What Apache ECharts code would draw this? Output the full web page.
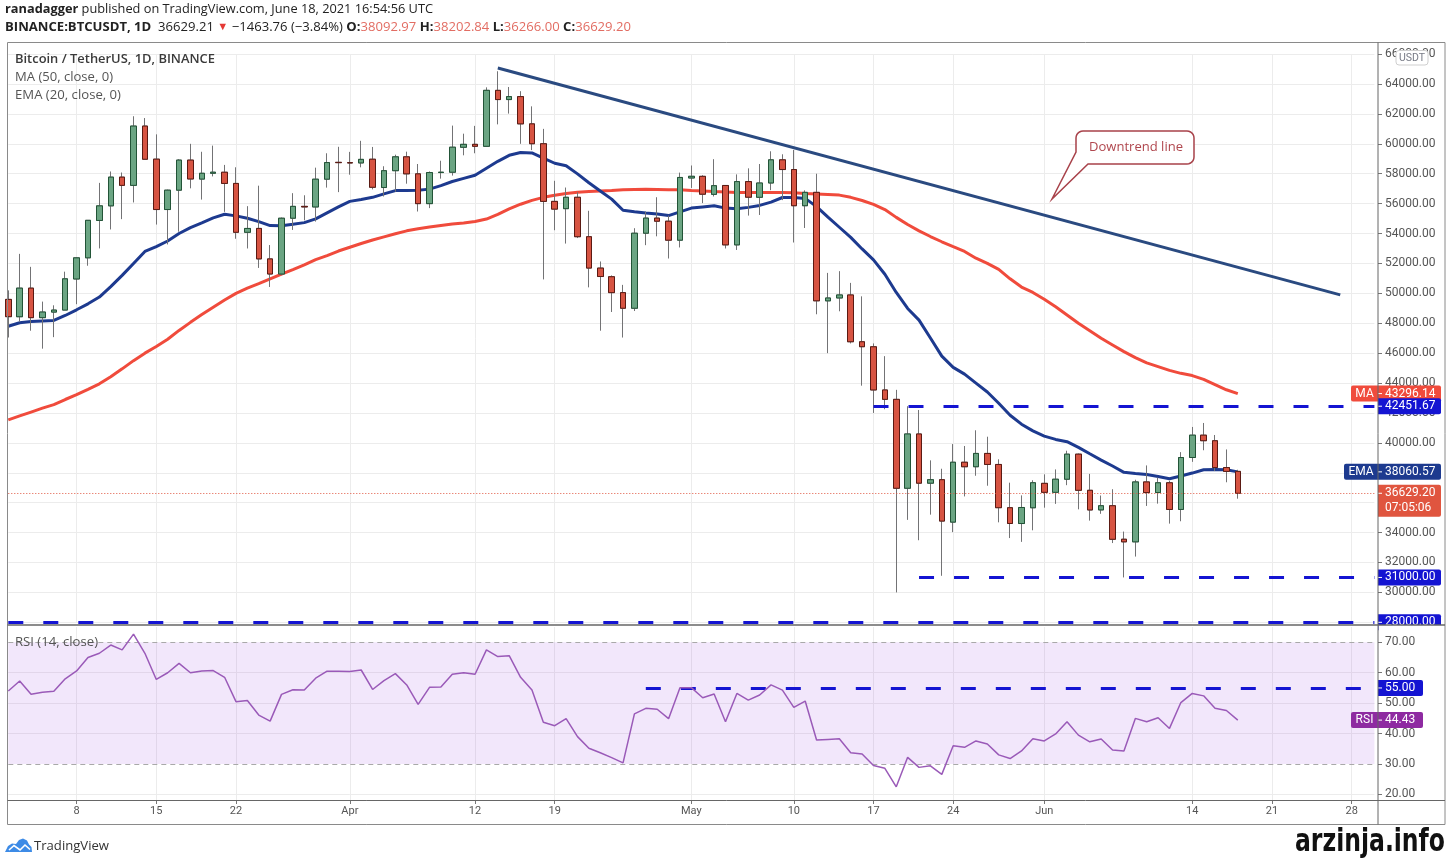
<!DOCTYPE html>
<html><head><meta charset="utf-8">
<script src="https://cdn.jsdelivr.net/npm/echarts@6/dist/echarts.min.js"></script>
<style>html,body{margin:0;padding:0;background:#fff}#c{width:1449px;height:859px}</style>
</head><body><div id="c"></div>
<script>
// ---------- DATA ----------
const dates = [
'03-02','03-03','03-04','03-05','03-06','03-07','03-08','03-09','03-10','03-11','03-12','03-13','03-14','03-15','03-16','03-17','03-18','03-19','03-20','03-21','03-22','03-23','03-24','03-25','03-26','03-27','03-28','03-29','03-30','03-31',
'04-01','04-02','04-03','04-04','04-05','04-06','04-07','04-08','04-09','04-10','04-11','04-12','04-13','04-14','04-15','04-16','04-17','04-18','04-19','04-20','04-21','04-22','04-23','04-24','04-25','04-26','04-27','04-28','04-29','04-30',
'05-01','05-02','05-03','05-04','05-05','05-06','05-07','05-08','05-09','05-10','05-11','05-12','05-13','05-14','05-15','05-16','05-17','05-18','05-19','05-20','05-21','05-22','05-23','05-24','05-25','05-26','05-27','05-28','05-29','05-30','05-31',
'06-01','06-02','06-03','06-04','06-05','06-06','06-07','06-08','06-09','06-10','06-11','06-12','06-13','06-14','06-15','06-16','06-17','06-18','06-19','06-20','06-21','06-22','06-23','06-24','06-25','06-26','06-27','06-28','06-29','06-30'];

const opens = [49595,48436,50349,48374,48746,48882,50960,52376,54874,55851,57773,57221,61188,58976,55605,56900,58912,57641,58030,58100,57351,54083,54342,52303,51293,55025,55817,55777,57635,58761,
58740,58721,58970,57077,58202,59130,57991,56000,58078,58101,59769,59965,59834,63576,62959,63158,61334,60006,56150,55663,56425,53787,51690,51111,50047,49004,54021,55033,54825,53555,
57714,57825,56620,57214,53241,57473,56425,57380,58929,58280,55860,56754,49498,49691,49893,46762,46427,43538,42910,36966,40596,37304,37537,34700,38705,38403,39294,38556,35664,34606,35659,
37293,36694,37568,39246,36829,35516,35796,33556,33380,37389,36677,37331,35546,39021,40516,40143,38349,38093];
const highs = [50200,52640,51773,49448,49200,51450,52402,54900,57387,58150,58081,61844,61724,60633,56938,58974,60000,59468,59880,58589,58430,55830,57200,53230,55073,56700,56559,58405,59368,59800,
59462,60200,59791,58500,59272,59475,58650,58153,58869,61218,60678,61200,63777,64854,63800,63520,62506,61000,57526,57076,56757,55521,52131,51200,50567,54356,55460,56428,55200,58075,
58550,57900,58973,57214,57956,58360,58650,59500,59300,59592,56888,58000,51367,51483,50700,49800,46650,45800,43547,42451,42200,38831,38270,39920,39791,40841,40412,38900,37338,36488,37499,
37896,38225,39476,39289,37925,36480,36900,34068,37534,38491,37680,37463,39380,41064,41330,40527,39560,38202];
const lows = [47047,48100,47500,46300,47070,48882,49274,51846,53005,54272,54962,56078,58966,54600,53271,54123,57023,56270,57820,55450,53650,53000,51700,50427,51214,54242,54884,54800,57071,56769,
57935,58428,56955,56478,56800,57333,55473,55700,57671,57875,59232,59369,59805,61301,62020,60000,59580,50931,54221,53329,53696,50400,47500,48753,47044,48817,53222,53813,52330,53068,
57050,56035,56478,53000,52900,55200,55241,56900,56235,53400,54370,48600,46000,48800,46650,43825,42001,42250,30000,34850,33488,35200,31111,34031,36419,37800,37134,34685,33633,33379,34153,
35666,35920,37170,35555,34800,35256,33300,31000,32396,35782,35936,34600,34757,38730,39506,38116,37365,36266];
const closes = [48440,50349,48374,48751,48882,50971,52375,54884,55851,57773,57221,61188,58968,55605,56900,58912,57648,58030,58102,57351,54083,54340,52303,51293,55025,55817,55778,57635,58746,58740,
58721,58960,57094,58202,59130,57991,56000,58078,58102,59774,59965,59834,63577,62959,63159,61334,60006,56150,55633,56425,53787,51690,51125,50047,49004,54021,55033,54824,53555,57750,
57828,56631,57200,53241,57473,56429,57380,58929,58280,55860,56754,49500,49690,49893,46762,46431,43538,42910,36964,40596,37304,37537,34770,38705,38403,39294,38556,35664,34608,35678,37333,
36693,37569,39246,36829,35513,35796,33552,33380,37388,36675,37331,35546,39020,40516,40144,38349,38092,36629];

const ma50 = [41540,41800,42060,42320,42560,42900,43220,43580,43950,44420,44950,45500,46000,46440,46930,47520,48060,48580,49070,49550,50000,50350,50650,50970,51290,51590,51900,52250,52520,52830,
53080,53330,53570,53780,53990,54180,54320,54440,54540,54630,54700,54800,54970,55280,55650,55960,56220,56420,56560,56670,56760,56810,56850,56880,56920,56950,56960,56950,56930,56920,
56880,56850,56810,56780,56750,56740,56740,56740,56740,56720,56670,56640,56610,56570,56420,56210,55950,55600,55080,54600,54180,53800,53450,53120,52800,52350,52000,51600,50970,50420,50060,
49600,49100,48550,48000,47500,47000,46550,46100,45700,45350,45100,44850,44650,44500,44250,43900,43550,43296];
const ema20 = [47800,48030,48110,48150,48190,48520,48900,49300,49750,50450,51200,52000,52800,53130,53500,54000,54400,54720,55050,55290,55180,55020,54800,54530,54520,54620,54730,54980,55380,55780,
56150,56280,56420,56650,56870,56880,56890,56970,57200,57480,57690,57900,58370,58830,59230,59420,59390,59050,58700,58530,57990,57400,56850,56300,55560,55460,55370,55300,55200,55450,
55700,55780,55860,55700,55650,55750,55880,56100,56410,56410,56350,55800,55100,54420,53740,52970,52240,51280,50060,48990,48210,47010,45800,45050,44600,44000,43400,42650,41850,41250,40800,
40450,40230,40080,39700,39270,38850,38450,38030,37950,37880,37750,37600,37780,37980,38200,38215,38200,38060];
const rsi14 = [54.0,57.3,52.9,53.6,53.9,58.0,60.6,65.0,66.4,69.1,67.5,72.7,66.4,57.8,60.0,63.1,60.0,60.6,60.7,58.5,50.5,50.9,46.1,44.1,52.9,54.4,54.3,58.2,60.5,60.5,
60.4,60.9,54.5,57.4,59.7,56.0,49.6,55.2,55.3,59.5,60.0,59.5,67.5,65.3,65.6,58.5,54.3,43.7,42.6,44.9,39.0,35.2,33.7,32.1,30.4,46.5,48.3,48.0,44.9,55.1,
55.1,51.8,53.0,43.9,53.2,51.0,52.7,56.0,54.3,48.6,50.7,37.9,38.1,38.3,33.7,33.3,29.5,28.6,22.5,32.2,28.9,29.4,26.6,36.0,35.5,37.6,36.6,33.0,31.8,34.3,38.3,
37.6,39.9,43.9,39.5,37.3,38.2,34.6,34.3,45.0,43.9,45.2,41.7,50.2,53.2,52.4,48.3,47.6,44.43];

const tickDates  = ['03-08','03-15','03-22','04-01','04-12','04-19','05-01','05-10','05-17','05-24','06-01','06-14','06-21','06-28'];
const tickLabels = ['8','15','22','Apr','12','19','May','10','17','24','Jun','14','21','28'];

const trendLine = [['04-14', 65070], ['06-27', 49900]];
const resistance = {value: 42451.67, from: '05-17'};
const support = {value: 31000, from: '05-21'};
const floorLevel = 28000;
const rsiLevel = {value: 55, from: '04-27'};
const lastClose = 36629.20, maLast = 43296.14, emaLast = 38060.57, rsiLast = 44.43;
const countdown = '07:05:06';

// ---------- CHART ----------
const chart = echarts.init(document.getElementById('c'));
const N = opens.length;
const wicks = [], bodies = [];
for (let i = 0; i < N; i++) {
  wicks.push([opens[i], closes[i], lows[i], highs[i]]);
  bodies.push([opens[i], closes[i], Math.min(opens[i], closes[i]), Math.max(opens[i], closes[i])]);
}
const isTick = (idx, val) => tickDates.indexOf(val === undefined ? dates[idx] : val) >= 0;
const lastCat = dates[dates.length - 1];
const BLUE = '#1414d2', GRID = '#ececec', AXC = '#777';
const AFONT = 'Roboto';
const GL = 8.3, GR = 74.6;

const dashBlue = {color: BLUE, width: 3, type: [15, 20]};

const option = {
  animation: false,
  backgroundColor: '#fff',
  grid: [
    {left: GL, right: GR, top: 54.1, height: 568.2},
    {left: GL, right: GR, top: 627, height: 173}
  ],
  xAxis: [
    {type: 'category', gridIndex: 0, data: dates, boundaryGap: false,
     axisLine: {show: false}, axisTick: {show: false}, axisLabel: {show: false},
     splitLine: {show: true, interval: isTick, lineStyle: {color: GRID}}},
    {type: 'category', gridIndex: 1, data: dates, boundaryGap: false,
     axisLine: {show: false},
     axisTick: {show: true, interval: isTick, length: 4, lineStyle: {color: AXC}},
     axisLabel: {show: true, interval: isTick, formatter: v => tickLabels[tickDates.indexOf(v)] || '',
                 color: '#555', fontSize: 11, fontFamily: AFONT, margin: 6},
     splitLine: {show: true, interval: isTick, lineStyle: {color: GRID}}}
  ],
  yAxis: [
    {type: 'value', gridIndex: 0, position: 'right', offset: 3.6, min: 28000, max: 66000, interval: 2000,
     axisLine: {show: false}, axisTick: {show: true, length: 4, lineStyle: {color: AXC}},
     axisLabel: {formatter: v => v.toFixed(2), color: '#555', fontSize: 12, fontFamily: AFONT, margin: 7, showMaxLabel: true, showMinLabel: true},
     splitLine: {show: true, lineStyle: {color: GRID}}},
    {type: 'value', gridIndex: 1, position: 'right', offset: 3.6, min: 18.18, max: 75.03, splitNumber: 5,
     axisLine: {show: false}, axisTick: {show: true, length: 4, lineStyle: {color: AXC}},
     axisLabel: {formatter: v => (Math.abs(v - Math.round(v / 10) * 10) < 1e-6 ? v.toFixed(2) : ''),
                 color: '#555', fontSize: 12, fontFamily: AFONT, margin: 7},
     splitLine: {show: false}}
  ],
  series: [
    {name: 'MA', type: 'line', xAxisIndex: 0, yAxisIndex: 0, data: ma50, showSymbol: false, z: 2,
     lineStyle: {color: '#f04b3c', width: 3}},
    {name: 'EMA', type: 'line', xAxisIndex: 0, yAxisIndex: 0, data: ema20, showSymbol: false, z: 2,
     lineStyle: {color: '#1d3a8f', width: 3}},
    {name: 'wick', type: 'candlestick', xAxisIndex: 0, yAxisIndex: 0, data: wicks, barWidth: 6, clip: false, z: 3,
     itemStyle: {color: '#737375', color0: '#737375', borderColor: '#737375', borderColor0: '#737375', borderWidth: 1}},
    {name: 'BTC', type: 'candlestick', xAxisIndex: 0, yAxisIndex: 0, data: bodies, barWidth: 6, clip: false, z: 4,
     itemStyle: {color: '#6ba583', color0: '#d75442', borderColor: '#225437', borderColor0: '#5b1a13', borderWidth: 1},
     markLine: {silent: true, symbol: 'none', label: {show: false}, animation: false,
       data: [
         {yAxis: lastClose, lineStyle: {color: '#e0553f', width: 1, type: [1, 2]}},
         {yAxis: floorLevel, lineStyle: dashBlue},
         [{coord: [resistance.from, resistance.value]}, {coord: [lastCat, resistance.value], lineStyle: dashBlue}],
         [{coord: [support.from, support.value]}, {coord: [lastCat, support.value], lineStyle: dashBlue}],
         [{coord: trendLine[0]}, {coord: trendLine[1], lineStyle: {color: '#2a4a80', width: 3, type: 'solid'}}]
       ]}},
    {name: 'RSI', type: 'line', xAxisIndex: 1, yAxisIndex: 1, data: rsi14, showSymbol: false, z: 5,
     lineStyle: {color: '#9a5ab8', width: 1.5},
     markArea: {silent: true, itemStyle: {color: 'rgba(150,60,220,0.12)'}, data: [[{yAxis: 70}, {yAxis: 30}]]},
     markLine: {silent: true, symbol: 'none', label: {show: false}, animation: false,
       data: [
         {yAxis: 60, lineStyle: {color: '#e2d6ea', width: 1, type: 'solid'}},
         {yAxis: 50, lineStyle: {color: '#e2d6ea', width: 1, type: 'solid'}},
         {yAxis: 40, lineStyle: {color: '#e2d6ea', width: 1, type: 'solid'}},
         {yAxis: 20, lineStyle: {color: GRID, width: 1, type: 'solid'}},
         {yAxis: 70, lineStyle: {color: '#a9a9a9', width: 1, type: [5, 4]}},
         {yAxis: 30, lineStyle: {color: '#a9a9a9', width: 1, type: [5, 4]}},
         [{coord: [rsiLevel.from, rsiLevel.value]}, {coord: [lastCat, rsiLevel.value], lineStyle: dashBlue}]
       ]}}
  ]
};
chart.setOption(option);

// ---------- ANNOTATIONS / CHROME ----------
const AX = 1378, RIGHT = 1445;
const HF = "'Open Sans'";
const mctx = document.createElement('canvas').getContext('2d');
function segW(segs) { let w = 0; segs.forEach(s => { mctx.font = s.f; w += mctx.measureText(s.t).width; }); return w; }
const y0 = v => chart.convertToPixel({yAxisIndex: 0}, v);
const y1 = v => chart.convertToPixel({yAxisIndex: 1}, v);

const els = [];
function T(x, y, text, o) {
  o = o || {};
  const st = {text: text, fill: o.fill || '#333', font: o.font || ('12px ' + AFONT),
              textAlign: o.align || 'left', align: o.align || 'left',
              textVerticalAlign: 'middle', verticalAlign: 'middle'};
  if (o.rich) st.rich = o.rich;
  els.push({type: 'text', x: x, y: y, z: o.z || 70, scaleX: o.sx || 1, style: st});
}
function tag(yc, color, txt, label, o) {
  o = o || {};
  const h = o.h || 16, w = o.w || 63, top = o.top !== undefined ? o.top : yc - h / 2;
  els.push({type: 'rect', z: 60, shape: {x: AX, y: top, width: w, height: h, r: [0, 2, 2, 0]}, style: {fill: color}});
  els.push({type: 'line', z: 61, shape: {x1: AX, y1: yc, x2: AX + 4, y2: yc}, style: {stroke: '#fff', lineWidth: 1}});
  T(AX + 7, yc, txt, {fill: '#fff', z: 61});
  if (o.line2) T(AX + 7, yc + 15, o.line2, {fill: '#fff', z: 61});
  if (label) {
    const lw = o.lw || 28;
    els.push({type: 'rect', z: 60, shape: {x: AX - lw, y: yc - 8, width: lw, height: 16, r: [2, 0, 0, 2]}, style: {fill: color}});
    T(AX - lw / 2, yc, label, {fill: '#fff', z: 61, align: 'center'});
  }
}

// value tags on the price scale
tag(y0(maLast), '#f04b3c', maLast.toFixed(2), 'MA', {lw: 27});
tag(y0(resistance.value), BLUE, resistance.value.toFixed(2));
tag(y0(emaLast), '#1d3a8f', emaLast.toFixed(2), 'EMA', {lw: 34});
tag(y0(lastClose), '#e0553f', lastClose.toFixed(2), null, {h: 32, top: y0(lastClose) - 8.5, line2: countdown});
tag(y0(support.value), BLUE, support.value.toFixed(2));
tag(y0(floorLevel), BLUE, floorLevel.toFixed(2));
// cover the lower half of the cut-off 28000 tag (pane boundary)
els.push({type: 'rect', z: 62, shape: {x: AX + 0.5, y: 625, width: RIGHT - AX - 1, height: 7}, style: {fill: '#fff'}});
// RSI scale tags
tag(y1(rsiLevel.value), BLUE, rsiLevel.value.toFixed(2), null, {w: 45});
tag(y1(rsiLast), '#8e2aa1', rsiLast.toFixed(2), 'RSI', {w: 45, lw: 27});

// USDT unit box
els.push({type: 'rect', z: 63, shape: {x: 1396, y: 50.5, width: 32, height: 14.5, r: 3}, style: {fill: '#fff', stroke: '#cfcfcf', lineWidth: 1}});
T(1412, 58, 'USDT', {align: 'center', fill: '#787b86', font: '10.5px ' + AFONT, z: 64});

// frame & separators
els.push({type: 'rect', z: 65, shape: {x: 7.5, y: 42.5, width: RIGHT - 7.5, height: 782}, style: {fill: 'none', stroke: '#8a8a8a', lineWidth: 1}});
els.push({type: 'line', z: 65, shape: {x1: AX, y1: 42.5, x2: AX, y2: 824.5}, style: {stroke: '#666', lineWidth: 1}});
els.push({type: 'line', z: 65, shape: {x1: 7.5, y1: 625, x2: RIGHT, y2: 625}, style: {stroke: '#666', lineWidth: 1.5}});
els.push({type: 'line', z: 65, shape: {x1: 7.5, y1: 800.5, x2: RIGHT, y2: 800.5}, style: {stroke: '#666', lineWidth: 1}});

// pane legends
function fitText(x, y, segs, target, text, rich, fill) {
  const s = target / segW(segs);
  T(x, y, text, {sx: s, rich: rich, fill: fill, font: segs[0].f});
}
const L13 = '13px ' + HF, L13b = '600 13px ' + HF;
fitText(15, 59, [{t: 'Bitcoin / TetherUS, 1D, BINANCE', f: L13b}], 200, 'Bitcoin / TetherUS, 1D, BINANCE', null, '#3a3a3a');
fitText(15, 77, [{t: 'MA (50, close, 0)', f: L13}], 98, 'MA (50, close, 0)', null, '#555');
fitText(15, 95, [{t: 'EMA (20, close, 0)', f: L13}], 106, 'EMA (20, close, 0)', null, '#555');
fitText(15, 642, [{t: 'RSI (14, close)', f: L13}], 83, 'RSI (14, close)', null, '#555');

// header
const H13 = '13px ' + HF, H13b = 'bold 13px ' + HF;
const rb = {fontFamily: HF, fontSize: 13, fontWeight: 'bold', fill: '#222', color: '#222'};
const rn = {fontFamily: HF, fontSize: 13, fill: '#222', color: '#222'};
const rr = {fontFamily: HF, fontSize: 13, fill: '#e26d63', color: '#e26d63'};
const rt = {fontFamily: HF, fontSize: 11, fill: '#e53935', color: '#e53935'};
const h1 = [{t: 'ranadagger', f: H13b}, {t: ' published on TradingView.com, June 18, 2021 16:54:56 UTC', f: H13}];
fitText(5, 9, h1, 428, '{b|ranadagger}{n| published on TradingView.com, June 18, 2021 16:54:56 UTC}', {b: rb, n: rn});
const h2parts = [
  ['b', 'BINANCE:BTCUSDT, 1D'], ['n', '  36629.21 '], ['t', '▼'], ['n', ' \u22121463.76 (\u22123.84%) '],
  ['b', 'O:'], ['r', '38092.97'], ['b', ' H:'], ['r', '38202.84'], ['b', ' L:'], ['r', '36266.00'], ['b', ' C:'], ['r', '36629.20']];
const h2segs = h2parts.map(p => ({t: p[1], f: p[0] === 'b' ? H13b : (p[0] === 't' ? '11px ' + HF : H13)}));
fitText(5, 27, h2segs, 626, h2parts.map(p => '{' + p[0] + '|' + p[1] + '}').join(''), {b: rb, n: rn, r: rr, t: rt});

// downtrend callout (rounded box with a pointer)
function arc(pts, cx, cy, r, a0, a1) {
  for (let k = 0; k <= 6; k++) { const a = (a0 + (a1 - a0) * k / 6) * Math.PI / 180; pts.push([cx + r * Math.cos(a), cy + r * Math.sin(a)]); }
}
const bx1 = 1076, by1 = 131, bx2 = 1194, by2 = 164, br = 7;
const cpts = [];
arc(cpts, bx1 + br, by1 + br, br, 180, 270);
arc(cpts, bx2 - br, by1 + br, br, 270, 360);
arc(cpts, bx2 - br, by2 - br, br, 0, 90);
cpts.push([1088, by2], [1052, 199], [bx1, 152]);
els.push({type: 'polygon', z: 66, shape: {points: cpts}, style: {fill: '#fff', stroke: '#a8424a', lineWidth: 1.5}});
fitText(1089, 147, [{t: 'Downtrend line', f: L13}], 94, 'Downtrend line', null, '#b0474e');

// TradingView logo
els.push({type: 'polygon', z: 66, shape: {points: [[5, 852], [8, 846], [12, 843.5], [16, 844], [19, 840], [23, 838.5], [27, 840.5], [29, 844.5], [31.5, 847], [32, 852]]},
  style: {fill: '#3d8be6'}});
els.push({type: 'polyline', z: 67, shape: {points: [[9, 850], [14, 845.5], [20, 850], [25, 845], [30, 849.5]]}, style: {stroke: '#fff', lineWidth: 1.6, fill: 'none'}});
fitText(34, 846, [{t: 'TradingView', f: '13px ' + HF}], 75, 'TradingView', null, '#333');

// watermark
const WF = "bold 32px 'DejaVu Sans Condensed', 'DejaVu Sans'";
mctx.font = WF;
const ws = 150 / mctx.measureText('arzinja.info').width;
els.push({type: 'text', z: 70, x: 1445, y: 843, scaleX: ws,
  style: {text: 'arzinja.info', font: WF, fill: '#111', textAlign: 'right', align: 'right', textVerticalAlign: 'middle', verticalAlign: 'middle'}});

chart.setOption({graphic: {elements: els}});
</script>
</body></html>
